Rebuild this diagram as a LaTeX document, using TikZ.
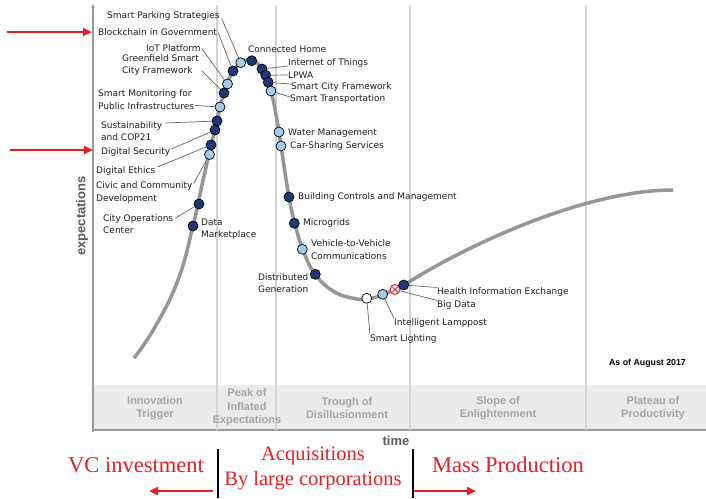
\documentclass[tikz,border=0pt]{standalone}
\usepackage{fontspec}
\setmainfont{DejaVu Sans}
\newfontfamily\arialf{Liberation Sans}
\newfontfamily\timesf{Liberation Serif}
\usetikzlibrary{calc,arrows.meta}
\definecolor{navy}{RGB}{30,56,122}
\definecolor{lblue}{RGB}{163,203,235}
\definecolor{redx}{RGB}{232,30,38}
\definecolor{curvegray}{RGB}{150,150,150}
\definecolor{sepgray}{RGB}{212,212,212}
\definecolor{bandgray}{RGB}{235,235,235}
\definecolor{phasetext}{RGB}{165,165,165}
\definecolor{axistext}{RGB}{90,90,90}
\begin{document}
\begin{tikzpicture}[x=1pt,y=-1pt,
  lbl/.style={font=\fontsize{9}{12.5}\selectfont, inner sep=0pt, anchor=west, align=left, text=black!88},
  dk/.style={circle, draw=black, line width=0.7pt, fill=navy, minimum size=10pt, inner sep=0pt},
  lt/.style={dk, fill=lblue},
  wh/.style={dk, fill=white},
  lead/.style={draw=black!60, line width=0.7pt},
  phase/.style={font=\arialf\bfseries\fontsize{11}{13.5}\selectfont, text=phasetext, align=center, inner sep=0pt},
  redtxt/.style={font=\timesf\fontsize{22.5}{25}\selectfont, text=redx, inner sep=0pt},
  redsmall/.style={font=\timesf\fontsize{20.5}{24}\selectfont, text=redx, inner sep=0pt},
  redarrow/.style={draw=redx, line width=2.6pt, -{Triangle[length=9pt,width=8pt]}},
  blackbar/.style={draw=black, line width=2.4pt},
  hype/.style={draw=curvegray, line width=3.5pt},
]
\useasboundingbox (0,0) rectangle (706,498);
\fill[white] (0,0) rectangle (706,498);
% phase band
\fill[bandgray] (93,385) rectangle (706,430);
\draw[black!40, line width=1.2pt] (93,430) -- (706,430);
% separators
\foreach \sx in {217,276,410,586} {\draw[sepgray, line width=1.2pt] (\sx,5) -- (\sx,430);}
% y axis
\coordinate (axb) at (93,432);
\coordinate (axt) at (93,4);
\draw[black!40, line width=1.3pt, -{Stealth[length=4pt,width=3.5pt]}] (axb) -- (axt);
% curve
\draw[hype] plot[smooth, tension=0.75] coordinates {(134,358) (155,327) (178,280) (193,226) (202,185) (210,150) (216,125) (223,96) (232,73) (241,62.5) (251,60) (260,66) (267,79) (272,95) (277,120) (281,146) (289,197) (295,224) (303,250) (315,274) (333,291) (352,298) (367,299) (383,294.5) (404,285)};
\draw[hype] (404,285) .. controls (475,240) and (590,190) .. (673,190);
% dots
\node[lt] (dSP) at (240.7,62.7) {};
\node[dk] (dCH) at (251.7,60.7) {};
\node[dk] (dBG) at (233,71) {};
\node[lt] (dIoTP) at (227.5,84) {};
\node[dk] (dGF) at (224,93) {};
\node[lt] (dSM) at (220,107) {};
\node[dk] (dSus) at (217,121) {};
\node[dk] (dDS) at (215,130) {};
\node[dk] (dDE) at (211,145) {};
\node[lt] (dCiv) at (209.5,154.5) {};
\node[dk] (dCO) at (199,204) {};
\node[dk] (dDM) at (193,226) {};
\node[dk] (dIoT) at (262,69) {};
\node[dk] (dLPWA) at (265.7,75.3) {};
\node[dk] (dSCF) at (268.3,82.3) {};
\node[lt] (dST) at (271,91) {};
\node[lt] (dWM) at (279,132) {};
\node[lt] (dCS) at (281,146) {};
\node[dk] (dBC) at (289,197) {};
\node[dk] (dMG) at (294.3,223.3) {};
\node[lt] (dV2V) at (302.3,249.3) {};
\node[dk] (dDG) at (315.3,274.3) {};
\node[wh] (dSL) at (366.7,298.3) {};
\node[lt] (dIL) at (382.7,294.3) {};
\node[circle, draw=redx, fill=white, line width=1pt, minimum size=10pt, inner sep=0pt] (dBD) at (395,289.5) {};
\draw[redx, line width=0.9pt] ($(dBD)+(-2.8,-2.8)$) -- ($(dBD)+(2.8,2.8)$) ($(dBD)+(-2.8,2.8)$) -- ($(dBD)+(2.8,-2.8)$);
\node[dk] (dHIE) at (403.7,285) {};
% labels
\node[lbl] (lSPS) at (107,16.5) {Smart Parking Strategies};
\node[lbl] (lBG) at (98,31.7) {Blockchain in Government};
\node[lbl] (lIoTP) at (146,47.7) {IoT Platform};
\node[lbl] (lGF) at (122,65) {Greenfield Smart\\City Framework};
\node[lbl] (lSM) at (98,99.5) {Smart Monitoring for\\Public Infrastructures};
\node[lbl] (lSus) at (101,131) {Sustainability\\and COP21};
\node[lbl] (lDS) at (101,152) {Digital Security};
\node[lbl] (lDE) at (96,171) {Digital Ethics};
\node[lbl] (lCiv) at (96,192.5) {Civic and Community\\Development};
\node[lbl] (lCO) at (103,224) {City Operations\\Center};
\node[lbl] (lDM) at (201,229) {Data\\Marketplace};
\node[lbl] (lCH) at (248,49) {Connected Home};
\node[lbl] (lIoT) at (288,63) {Internet of Things};
\node[lbl] (lLPWA) at (288,75) {LPWA};
\node[lbl] (lSCF) at (291,87) {Smart City Framework};
\node[lbl] (lST) at (290,99) {Smart Transportation};
\node[lbl] (lWM) at (288,133) {Water Management};
\node[lbl] (lCS) at (290,146) {Car-Sharing Services};
\node[lbl] (lBC) at (298,197) {Building Controls and Management};
\node[lbl] (lMG) at (303,223) {Microgrids};
\node[lbl] (lV2V) at (311,249.5) {Vehicle-to-Vehicle\\Communications};
\node[lbl] (lDG) at (258,283) {Distributed\\Generation};
\node[lbl] (lSL) at (370,339) {Smart Lighting};
\node[lbl] (lIL) at (394,323) {Intelligent Lamppost};
\node[lbl] (lBD) at (437,305) {Big Data};
\node[lbl] (lHIE) at (437,292) {Health Information Exchange};
% leaders
\draw[lead] ($(lSPS.east)+(2,2)$) -- (dSP);
\draw[lead] ($(lBG.east)+(1,1)$) -- (dBG);
\draw[lead] ($(lIoTP.east)+(1,1)$) -- (dIoTP);
\draw[lead] ($(lGF.east)+(3,6)$) -- (dGF);
\draw[lead] ($(lSM.south east)+(1,-4)$) -- (dSM);
\draw[lead] ($(lSus.east)+(3,-8)$) -- (dSus);
\draw[lead] ($(lDS.east)+(1,-3)$) -- (dDS);
\draw[lead] ($(lDE.east)+(2,-4)$) -- (dDE);
\draw[lead] ($(lCiv.east)+(1,-9)$) -- (dCiv);
\draw[lead] ($(lCO.east)+(2,-6)$) -- (dCO);
\draw[lead] ($(lIoT.west)+(0,3)$) -- (dIoT);
\draw[lead] (lLPWA.west) -- (dLPWA);
\draw[lead] ($(lSCF.west)+(0,-3)$) -- (dSCF);
\draw[lead] ($(lST.west)+(0,-2)$) -- (dST);
\draw[lead] (dSL) -- (lSL.north west);
\draw[lead] (dIL) -- (lIL.north west);
\draw[lead] (dBD) -- (lBD.north west);
\draw[lead] (dHIE) -- (lHIE.north west);
% phases
\node[phase] (pIT) at (155,408) {Innovation\\Trigger};
\node[phase] (pPI) at (247,407.5) {Peak of\\Inflated\\Expectations};
\node[phase] (pTD) at (347,408) {Trough of\\Disillusionment};
\node[phase] (pSE) at (498,408) {Slope of\\Enlightenment};
\node[phase] (pPP) at (653,408) {Plateau of\\Productivity};
% axis labels
\node[font=\arialf\bfseries\fontsize{13}{15}\selectfont, text=axistext, rotate=90, inner sep=0pt] (yl) at (82,216) {expectations};
\node[font=\arialf\bfseries\fontsize{13}{15}\selectfont, text=axistext, inner sep=0pt] (xl) at (396,441) {time};
\node[font=\arialf\bfseries\fontsize{8.8}{10}\selectfont, inner sep=0pt] (asof) at (647.5,363) {As of August 2017};
% red annotations
\coordinate (ra1s) at (7,32);
\coordinate (ra1e) at (92,32);
\coordinate (ra2s) at (10,150);
\coordinate (ra2e) at (93,150);
\draw[redarrow] (ra1s) -- (ra1e);
\draw[redarrow] (ra2s) -- (ra2e);
\coordinate (b1t) at (218,449);
\coordinate (b1b) at (218,498);
\coordinate (b2t) at (413,449);
\coordinate (b2b) at (413,498);
\draw[blackbar] (b1t) -- (b1b);
\draw[blackbar] (b2t) -- (b2b);
\node[redtxt] (vc) at (136,465) {VC investment};
\node[redsmall] (acq) at (313,456) {Acquisitions};
\node[redsmall] (blc) at (313,481) {By large corporations};
\node[redtxt] (mp) at (508,465) {Mass Production};
\coordinate (la1) at (213,491);
\coordinate (la2) at (149,491);
\coordinate (ra1) at (414,491);
\coordinate (ra2) at (476,491);
\draw[redarrow] (la1) -- (la2);
\draw[redarrow] (ra1) -- (ra2);
\end{tikzpicture}
\end{document}
